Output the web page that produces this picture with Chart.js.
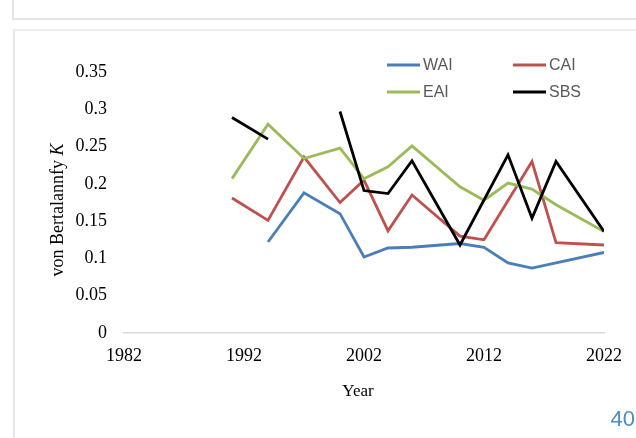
<!DOCTYPE html>
<html><head><meta charset="utf-8">
<script src="https://cdn.jsdelivr.net/npm/chart.js@4"></script>
<style>
html,body{margin:0;padding:0;background:#fff;}
#wrap{position:relative;width:636px;height:438px;overflow:hidden;background:#fff;}
#topbox{position:absolute;left:12px;top:-4px;width:640px;height:20px;border:2px solid #e4e4e4;}
#mainbox{position:absolute;left:13px;top:29px;width:640px;height:420px;border-left:2px solid #e6e6e6;border-top:2px solid #eeeeee;}
#c{position:absolute;left:0;top:0;}
#page{position:absolute;right:1px;top:406px;font:22px 'Liberation Sans',sans-serif;color:#4a8fc2;line-height:26px;}
</style></head>
<body>
<div id="wrap">
<div id="topbox"></div>
<div id="mainbox"></div>
<canvas id="c" width="636" height="438"></canvas>
<div id="page">40</div>
</div>
<script>
const years = [1991, 1994, 1997, 2000, 2002, 2004, 2006, 2010, 2012, 2014, 2016, 2018, 2022];
const WAI = [null, 0.122, 0.188, 0.160, 0.102, 0.114, 0.115, 0.120, 0.115, 0.094, 0.087, null, 0.108];
const CAI = [0.181, 0.151, 0.236, 0.175, 0.205, 0.137, 0.185, 0.130, 0.125, null, 0.230, 0.121, 0.118];
const EAI = [0.207, 0.280, 0.234, 0.248, 0.207, 0.223, 0.251, 0.196, 0.178, 0.201, 0.193, 0.172, 0.136];
const SBS = [0.289, 0.260, null, 0.297, 0.191, 0.187, 0.231, 0.118, null, 0.239, 0.154, 0.230, 0.136];
const seriesNames = ['WAI', 'CAI', 'EAI', 'SBS'];
const seriesColors = ['#4a7ebb', '#c0504d', '#9bbb59', '#000000'];
const seriesSpan = [true, true, true, 5];
const xTicks = [1982, 1992, 2002, 2012, 2022];
const yTicks = [0, 0.05, 0.1, 0.15, 0.2, 0.25, 0.3, 0.35];
const xTitle = 'Year';
const yTitleMain = 'von Bertalannfy ';
const yTitleItalic = 'K';

function pts(arr){
  const out = [];
  arr.forEach((v,i)=>{ if(v!==null) out.push({x: years[i], y: v}); });
  return out;
}
const allSeries = [WAI, CAI, EAI, SBS];
const datasets = allSeries.map((arr,i)=>({
  label: seriesNames[i],
  data: pts(arr),
  borderColor: seriesColors[i],
  backgroundColor: seriesColors[i],
  borderWidth: 2.8,
  pointRadius: 0,
  tension: 0,
  spanGaps: seriesSpan[i],
  order: 4 - i,
  borderJoinStyle: 'miter'
}));

const decor = {
  id: 'decor',
  afterDraw(chart){
    const ctx = chart.ctx;
    ctx.save();
    ctx.fillStyle = '#000';
    ctx.textBaseline = 'middle';
    const fN = "18px 'Liberation Serif', serif";
    const fI = "italic 18px 'Liberation Serif', serif";
    ctx.font = fN; const w1 = ctx.measureText(yTitleMain).width;
    ctx.font = fI; const w2 = ctx.measureText(yTitleItalic).width;
    ctx.translate(58, 210);
    ctx.rotate(-Math.PI/2);
    ctx.textAlign = 'left';
    ctx.font = fN; ctx.fillText(yTitleMain, -(w1+w2)/2, 0);
    ctx.font = fI; ctx.fillText(yTitleItalic, -(w1+w2)/2 + w1, 0);
    ctx.setTransform(1,0,0,1,0,0);
    ctx.font = "17px 'Liberation Serif', serif";
    ctx.textAlign = 'center';
    ctx.fillText(xTitle, 358, 392);
    const pos = [[387, 65], [513, 65], [387, 92], [513, 92]];
    ctx.font = "16px 'Liberation Sans', sans-serif";
    ctx.textAlign = 'left';
    chart.data.datasets.forEach((ds, i)=>{
      const [lx, ly] = pos[i];
      ctx.strokeStyle = ds.borderColor;
      ctx.lineWidth = 3;
      ctx.beginPath(); ctx.moveTo(lx, ly); ctx.lineTo(lx+33, ly); ctx.stroke();
      ctx.fillStyle = '#595959';
      ctx.fillText(ds.label, lx+36, ly+1);
    });
    ctx.restore();
  }
};

new Chart(document.getElementById('c'), {
  type: 'line',
  data: { datasets },
  options: {
    responsive: false,
    animation: false,
    layout: { padding: { left: 0, right: 32, top: 72, bottom: 0 } },
    plugins: { legend: { display: false }, tooltip: { enabled: false } },
    scales: {
      x: {
        type: 'linear', min: 1982, max: 2022,
        afterBuildTicks: (s)=>{ s.ticks = xTicks.map(v=>({value:v})); },
        afterFit: (s)=>{ s.height = 105; },
        grid: { display: false, drawTicks: false },
        border: { display: true, color: '#d9d9d9', width: 1.5 },
        ticks: { padding: 12, color: '#000', font: { family: "'Liberation Serif', serif", size: 18 }, callback: (v)=>String(v), maxRotation: 0 }
      },
      y: {
        min: 0, max: 0.35,
        afterBuildTicks: (s)=>{ s.ticks = yTicks.map(v=>({value:v})); },
        afterFit: (s)=>{ s.width = 124; },
        grid: { display: false, drawTicks: false },
        border: { display: false },
        ticks: { padding: 17, color: '#000', font: { family: "'Liberation Serif', serif", size: 18 }, callback: (v)=>String(Math.round(v*100)/100) }
      }
    }
  },
  plugins: [decor]
});
</script>
</body></html>
